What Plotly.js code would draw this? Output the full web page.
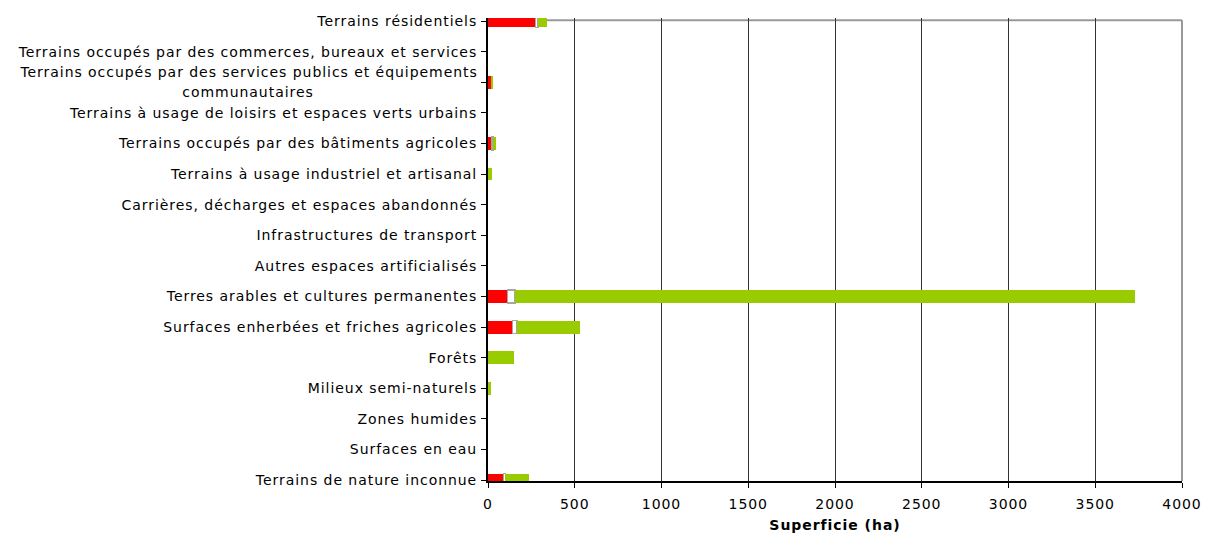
<!DOCTYPE html>
<html><head><meta charset="utf-8">
<script src="https://cdn.plot.ly/plotly-3.0.1.min.js"></script>
<style>
html,body{margin:0;padding:0;background:#fff}
#chart{width:1205px;height:536px}
#chart .ytick text, #chart .xtick text, #chart .annotation-text, #chart .xtitle {letter-spacing:0.95px}
</style>
</head><body><div id="chart"></div>
<script>
const categories = [
  "Terrains résidentiels",
  "Terrains occupés par des commerces, bureaux et services",
  "Terrains occupés par des services publics et équipements<br>communautaires",
  "Terrains à usage de loisirs et espaces verts urbains",
  "Terrains occupés par des bâtiments agricoles",
  "Terrains à usage industriel et artisanal",
  "Carrières, décharges et espaces abandonnés",
  "Infrastructures de transport",
  "Autres espaces artificialisés",
  "Terres arables et cultures permanentes",
  "Surfaces enherbées et friches agricoles",
  "Forêts",
  "Milieux semi-naturels",
  "Zones humides",
  "Surfaces en eau",
  "Terrains de nature inconnue"
];
const redValues   = [275, 0, 16, 0, 23, 0, 0, 0, 0, 111, 142, 0, 0, 0, 0, 88];
const whiteValues = [13,  0, 0,  0, 8,  0, 0, 0, 0, 44,  25,  0, 0, 0, 0, 12];
const greenValues = [50,  0, 12, 0, 15, 22, 0, 0, 0, 3573, 363, 150, 20, 0, 0, 137];
const xTicks = [0, 500, 1000, 1500, 2000, 2500, 3000, 3500, 4000];

const idx = categories.map((c, i) => i);
const tickText = categories.map((c) => c.includes("<br>") ? "" : c);
const nz = (arr) => arr.map(v => v === 0 ? null : v);
const font = {family: "DejaVu Sans, Verdana, sans-serif", size: 14, color: "#000"};

const traces = [
  {type: "bar", orientation: "h", y: idx, x: nz(redValues), marker: {color: "#FF0000", line: {width: 0}}, width: 0.42},
  {type: "bar", orientation: "h", y: idx, x: nz(whiteValues), marker: {color: "#FFFFFF", line: {color: "#A6A6A6", width: 1.5}}, width: 0.42},
  {type: "bar", orientation: "h", y: idx, x: nz(greenValues), marker: {color: "#99CC00", line: {width: 0}}, width: 0.42}
];

// multi-line category label: each line centred on the same point, as in the reference
const annotations = [];
categories.forEach((c, i) => {
  if (c.includes("<br>")) {
    const lines = c.split("<br>");
    lines.forEach((line, k) => {
      annotations.push({xref: "paper", yref: "y", x: -0.3458, y: i, xanchor: "center", yanchor: "middle",
        yshift: 10 - 20 * k, text: line, showarrow: false, align: "center", font: font});
    });
  }
});

const layout = {
  width: 1205, height: 536,
  margin: {l: 488, r: 23, t: 17.5, b: 55, pad: 0},
  paper_bgcolor: "#fff", plot_bgcolor: "#fff",
  barmode: "stack", showlegend: false,
  font: font,
  xaxis: {range: [0, 4000], tickvals: xTicks, ticktext: xTicks.map(String),
    showgrid: true, gridcolor: "#333", gridwidth: 1, zeroline: false,
    showline: true, linecolor: "#000", linewidth: 2,
    ticks: "outside", ticklen: 5, tickcolor: "#000", tickwidth: 1,
    tickfont: font, ticklabelstandoff: 4,
    title: {text: "<b>Superficie (ha)</b>", font: font, standoff: 9}},
  yaxis: {range: [15.03, -0.1], tickvals: idx, ticktext: tickText,
    showgrid: false, zeroline: false,
    showline: true, linecolor: "#000", linewidth: 2,
    ticks: "outside", ticklen: 5, tickcolor: "#000", tickwidth: 1,
    tickfont: font, ticklabelstandoff: 1},
  shapes: [
    {type: "line", layer: "below", xref: "paper", yref: "y", x0: 0, x1: 1, y0: -0.03, y1: -0.03, line: {color: "#999", width: 2}},
    {type: "line", layer: "above", xref: "paper", yref: "paper", x0: 1, x1: 1, y0: 0, y1: 0.995, line: {color: "#999", width: 2}}
  ],
  annotations: annotations
};

Plotly.newPlot("chart", traces, layout, {displayModeBar: false, staticPlot: true});
</script></body></html>
